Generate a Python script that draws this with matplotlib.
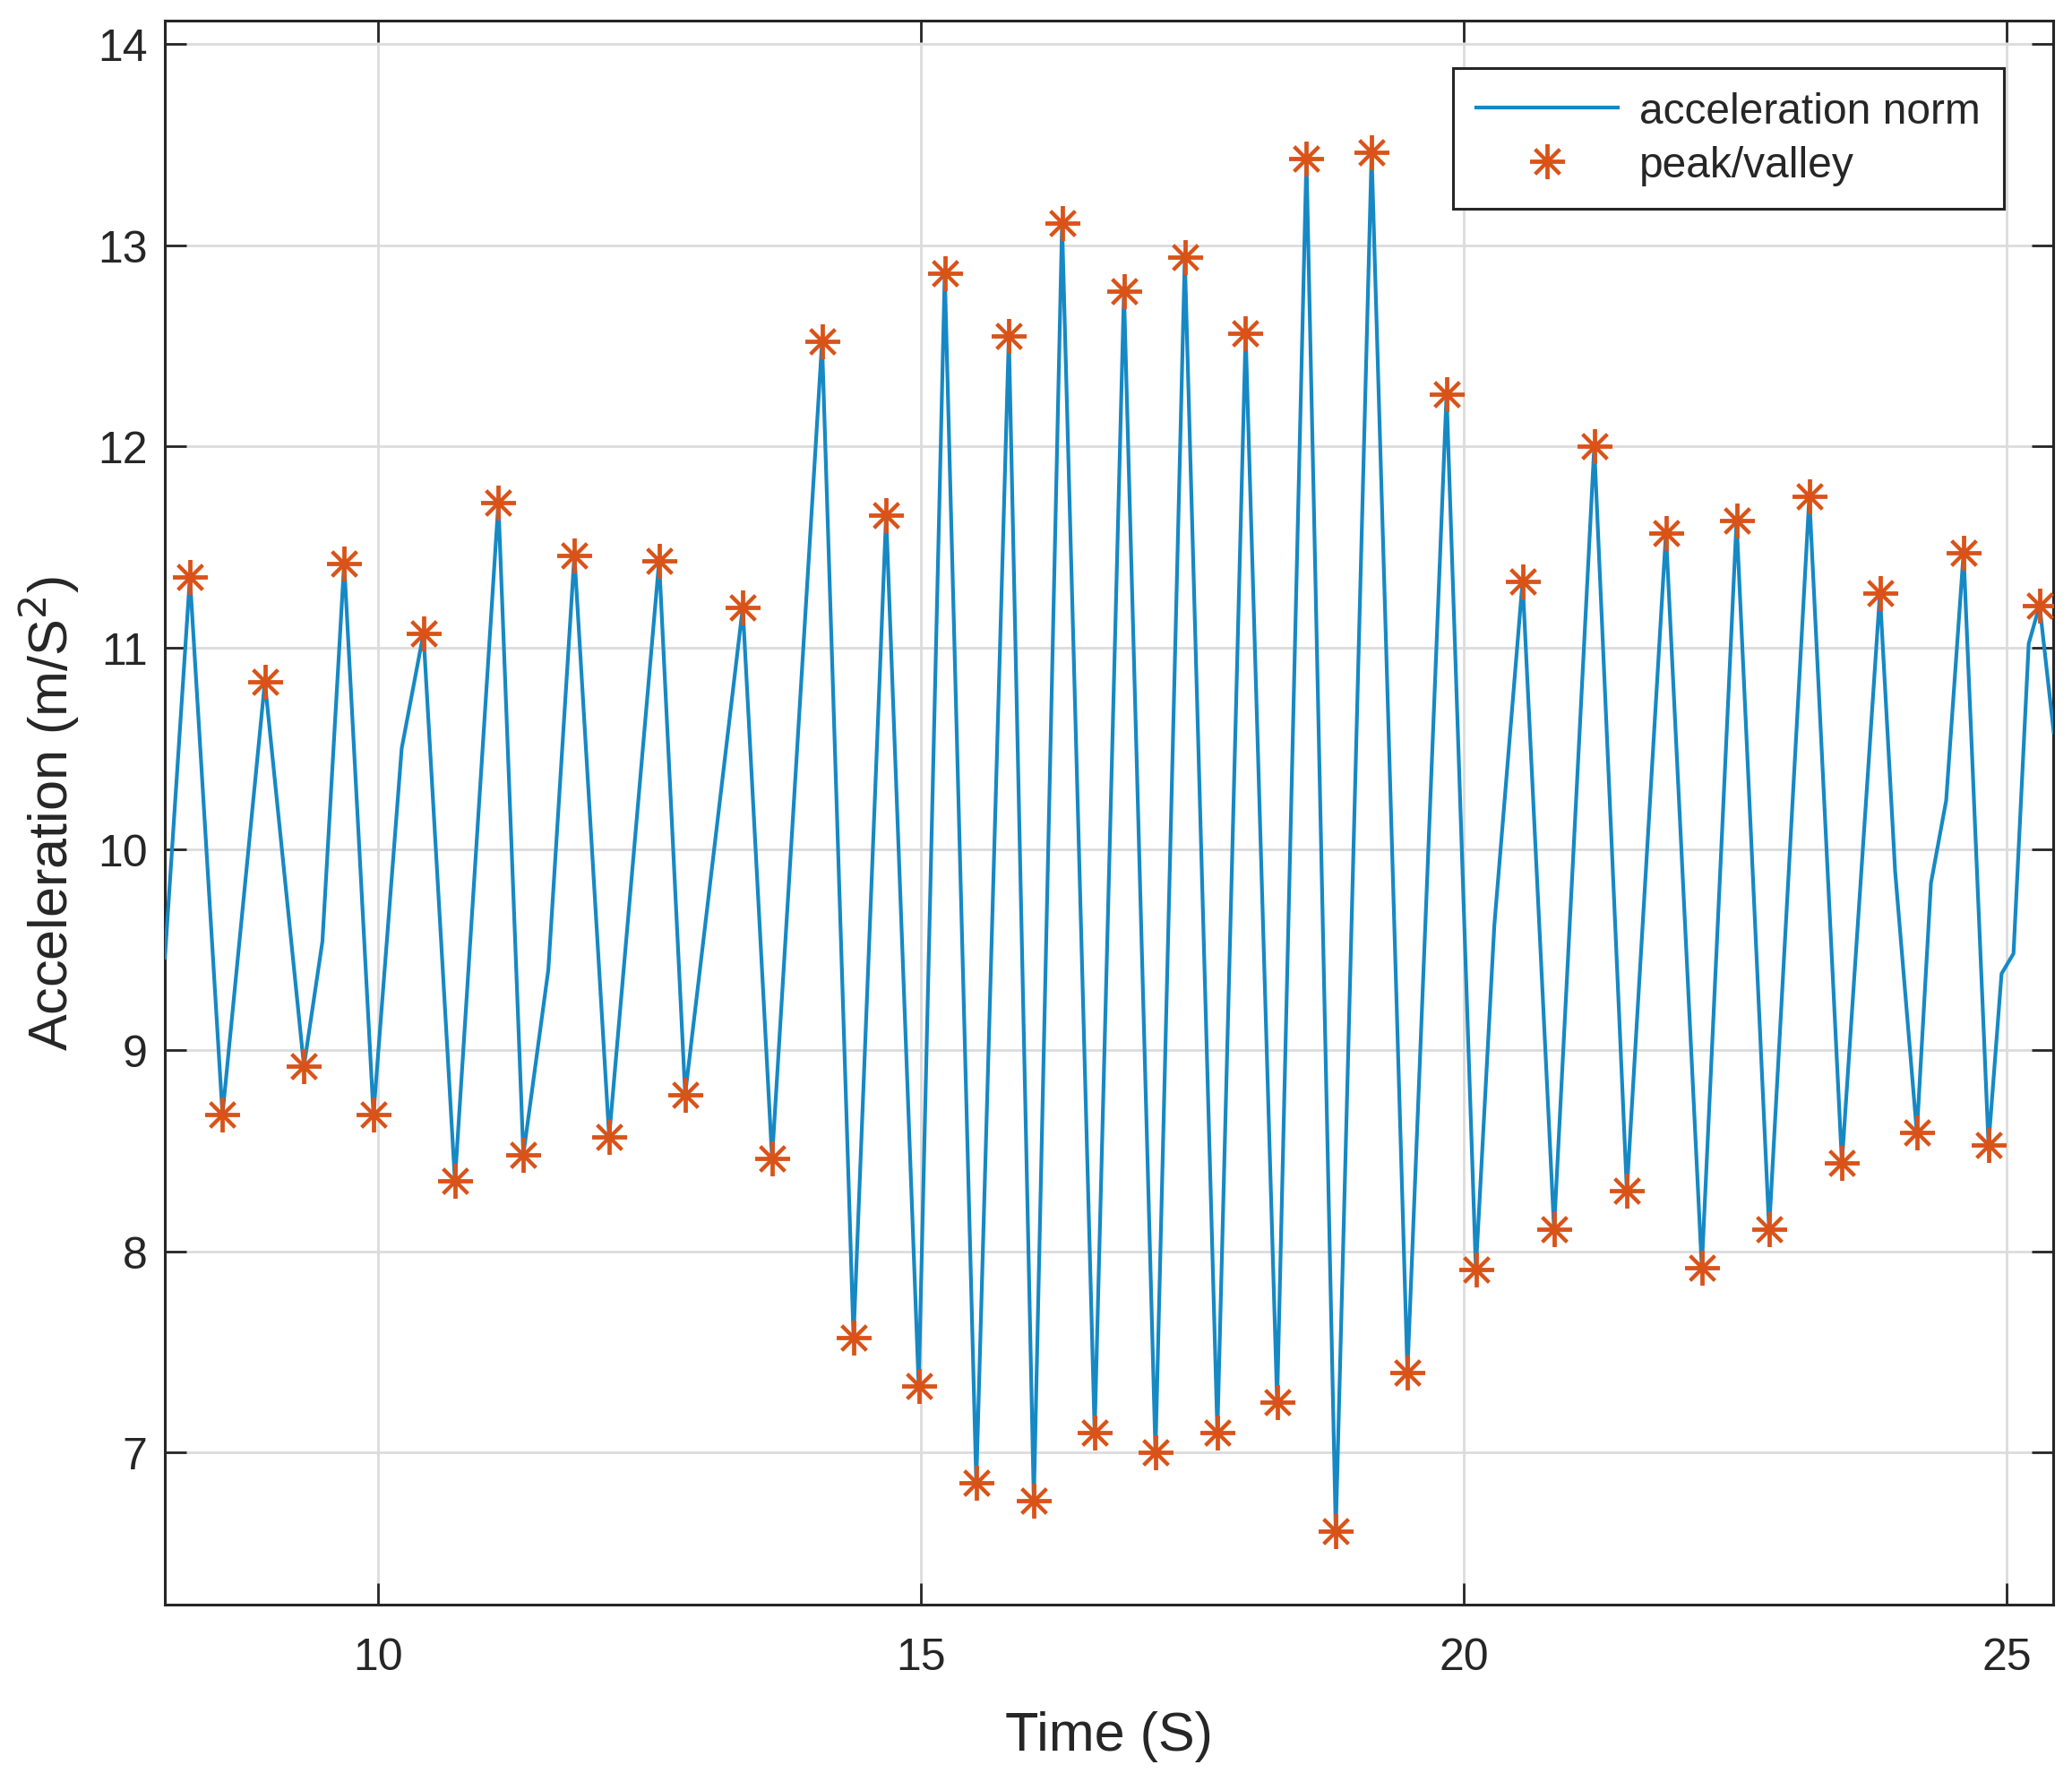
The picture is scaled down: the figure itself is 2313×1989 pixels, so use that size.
import matplotlib
matplotlib.use("Agg")
import matplotlib.pyplot as plt
import numpy as np

# Peaks and valleys found on the acceleration norm (time in s, value in m/s^2)
peak_t = [8.27, 8.57, 8.96, 9.32, 9.69, 9.96, 10.42, 10.71, 11.11, 11.34,
          11.81, 12.13, 12.59, 12.83, 13.36, 13.63, 14.09, 14.38, 14.68, 14.98,
          15.22, 15.51, 15.81, 16.04, 16.30, 16.60, 16.87, 17.16, 17.43, 17.73,
          17.99, 18.28, 18.55, 18.82, 19.15, 19.48, 19.84, 20.11, 20.54, 20.83,
          21.20, 21.50, 21.86, 22.19, 22.51, 22.81, 23.18, 23.48, 23.83, 24.17,
          24.60, 24.83, 25.30]
peak_a = [11.35, 8.68, 10.83, 8.92, 11.42, 8.68, 11.07, 8.35, 11.72, 8.48,
          11.46, 8.57, 11.43, 8.78, 11.20, 8.46, 12.52, 7.57, 11.66, 7.33,
          12.86, 6.85, 12.55, 6.76, 13.11, 7.10, 12.77, 7.00, 12.94, 7.10,
          12.56, 7.25, 13.43, 6.61, 13.46, 7.40, 12.26, 7.91, 11.33, 8.11,
          12.00, 8.30, 11.57, 7.92, 11.63, 8.11, 11.75, 8.44, 11.27, 8.59,
          11.47, 8.53, 11.21]

# Extra points of the signal between extrema (start, shoulders, end)
extra_t = [8.04, 9.49, 10.22, 11.57, 20.28, 23.97, 24.30, 24.44, 24.95, 25.06, 25.20, 25.43]
extra_a = [9.46, 9.54, 10.50, 9.40, 9.62, 9.89, 9.83, 10.24, 9.38, 9.48, 11.02, 10.58]

x_ticks = [10, 15, 20, 25]
y_ticks = [7, 8, 9, 10, 11, 12, 13, 14]


def main() -> None:
    plt.rcParams['font.family'] = ['Liberation Sans', 'DejaVu Sans']

    # Signal = extrema + extra points, sorted by time
    sig_t = np.array(peak_t + extra_t)
    sig_a = np.array(peak_a + extra_a)
    order = np.argsort(sig_t)
    sig_t = sig_t[order]
    sig_a = sig_a[order]

    fig = plt.figure(figsize=(23.13, 19.90), dpi=100)
    ax = fig.add_axes([0.0796, 0.0997, 0.9113, 0.8883])

    txt = '#262626'
    ax.plot(sig_t, sig_a, color='#1689c4', linewidth=3, label='acceleration norm', zorder=3)
    ax.plot(peak_t, peak_a, linestyle='none', marker=(8, 2, 0), markersize=28,
            markeredgewidth=2.8, color='#D95319', label='peak/valley', zorder=4)

    ax.set_xlim(8.04, 25.425)
    ax.set_ylim(6.247, 14.116)
    ax.set_xticks(x_ticks)
    ax.set_yticks(y_ticks)

    ax.grid(True, color='#dcdcdc', linewidth=2)
    ax.set_axisbelow(True)

    ax.tick_params(axis='both', which='major', direction='in', length=17, width=2,
                   colors=txt, labelsize=36, top=True, right=True)
    ax.tick_params(axis='y', pad=14)
    ax.tick_params(axis='x', pad=26)

    ax.set_xlabel('Time (S)', fontsize=44, color=txt, labelpad=26)
    ax.set_ylabel('Acceleration (m/S$^2$)', fontsize=44, color=txt, labelpad=13)

    for spine in ax.spines.values():
        spine.set_linewidth(2.2)
        spine.set_color(txt)

    leg = ax.legend(loc='upper right', bbox_to_anchor=(0.974, 0.970), borderaxespad=0,
                    fontsize=34.5, fancybox=False, framealpha=1, edgecolor=txt,
                    borderpad=0.55, labelspacing=0.3, handlelength=3.3, handletextpad=0.5)
    leg.get_frame().set_linewidth(2.2)
    for t in leg.get_texts():
        t.set_color(txt)

    fig.savefig('out.png', dpi=100)
    plt.close(fig)


if __name__ == "__main__":
    main()
